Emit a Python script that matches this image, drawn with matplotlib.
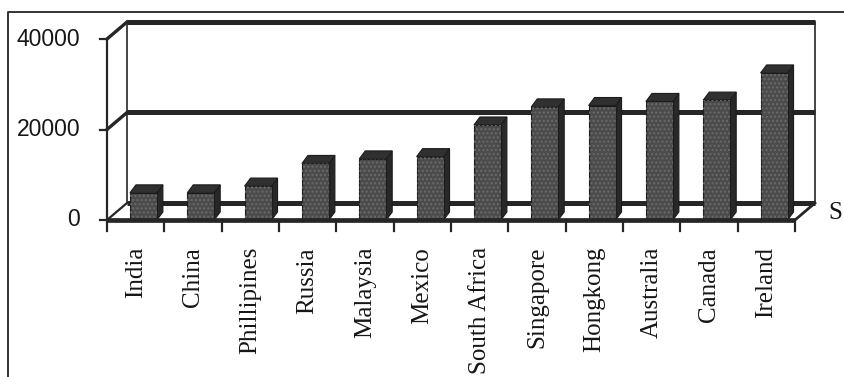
import matplotlib
matplotlib.use("Agg")
import matplotlib.pyplot as plt
from matplotlib.patches import Polygon
from matplotlib.lines import Line2D
from matplotlib.transforms import ScaledTranslation

# ---- data ----
countries = ["India", "China", "Phillipines", "Russia", "Malaysia", "Mexico",
             "South Africa", "Singapore", "Hongkong", "Australia", "Canada", "Ireland"]
values = [6000, 6000, 7500, 12500, 13500, 14000,
          21000, 25000, 25300, 26200, 26500, 32500]
y_ticks = [0, 20000, 40000]
y_tick_labels = ["0", "20000", "40000"]
legend_text = "S"

# ---- layout (pixels at 100 dpi) ----
W, H, DPI = 844, 377, 100
AX_L, AX_R = 107, 795          # front floor edge
AX_B, AX_T = 220, 39           # 0 and 40000 on the front plane
WALL_DX, WALL_DY = 20, 17      # depth of the back wall
BAR_DX, BAR_DY = 6, 8          # depth of each column
BAR_OFF, BAR_W = 0.40, 0.47    # column front face inside its category slot

fig = plt.figure(figsize=(W / DPI, H / DPI), dpi=DPI)
fig.patch.set_facecolor("white")
ax = fig.add_axes([AX_L / W, (H - AX_B) / H, (AX_R - AX_L) / W, (AX_B - AX_T) / H])
n = len(countries)
ax.set_xlim(0, n)
ax.set_ylim(0, y_ticks[-1])
ax.axis("off")

px_x = n / (AX_R - AX_L)                  # data units per pixel, horizontal
px_y = y_ticks[-1] / (AX_B - AX_T)        # data units per pixel, vertical


def shift(dx_px, dy_px):
    return ax.transData + ScaledTranslation(dx_px / DPI, dy_px / DPI, fig.dpi_scale_trans)


back = shift(WALL_DX, WALL_DY)
grid_col = "#262626"
text_col = "#161616"

# back wall gridlines and side-wall diagonals
for v in y_ticks:
    ax.add_line(Line2D([0, n], [v, v], transform=back, color=grid_col,
                       lw=3.6, solid_capstyle="butt", zorder=1, clip_on=False))
    ax.add_line(Line2D([0, WALL_DX * px_x], [v, v + WALL_DY * px_y], color=grid_col,
                       lw=2.4 if v else 1.6, zorder=1, clip_on=False))
# back wall vertical edges
for xv in (0, n):
    ax.add_line(Line2D([xv, xv], [0, y_ticks[-1]], transform=back, color=grid_col,
                       lw=1.2, zorder=1, clip_on=False))
# right floor edge
ax.add_line(Line2D([n, n + WALL_DX * px_x], [0, WALL_DY * px_y], color=grid_col,
                   lw=2.0, zorder=1, clip_on=False))

# columns
face_col, top_col, side_col, edge_col = "#4b4b4b", "#303030", "#282828", "#1c1c1c"
bdx, bdy = BAR_DX * px_x, BAR_DY * px_y
for i, v in enumerate(values):
    x0 = i + BAR_OFF
    x1 = x0 + BAR_W
    front_face = [(x0, 0), (x1, 0), (x1, v), (x0, v)]
    top_face = [(x0, v), (x1, v), (x1 + bdx, v + bdy), (x0 + bdx, v + bdy)]
    side_face = [(x1, 0), (x1 + bdx, bdy), (x1 + bdx, v + bdy), (x1, v)]
    for pts, col in ((side_face, side_col), (top_face, top_col), (front_face, face_col)):
        ax.add_patch(Polygon(pts, closed=True, facecolor=col, edgecolor=edge_col,
                             lw=0.8, zorder=2, clip_on=False))
    ax.add_patch(Polygon(front_face, closed=True, facecolor="none", edgecolor="#6a6a6a",
                         hatch="....", lw=0, zorder=2.1, clip_on=False))

# front floor edge and value axis
ax.add_line(Line2D([0, n], [0, 0], color=grid_col, lw=3.4, zorder=3,
                   solid_capstyle="butt", clip_on=False))
ax.add_line(Line2D([0, 0], [0, y_ticks[-1]], color=grid_col, lw=1.6, zorder=3, clip_on=False))

# tick marks
for v in y_ticks:
    ax.add_line(Line2D([-7 * px_x, 0], [v, v], color=grid_col, lw=1.6, zorder=3, clip_on=False))
for i in range(n + 1):
    ax.add_line(Line2D([i, i], [0, -11 * px_y], color=grid_col, lw=1.6, zorder=3, clip_on=False))

# tick labels
for v, lab in zip(y_ticks, y_tick_labels):
    ax.text(0, v, lab, transform=shift(-27, 0), ha="right", va="center",
            fontsize=16.5, family="Liberation Sans", color=text_col)
for i, name in enumerate(countries):
    ax.text(i + 0.5, 0, name, transform=shift(0, -27), rotation=90, ha="center",
            va="top", fontsize=18, family="Liberation Serif", color=text_col)

# legend entry at the right edge
ax.text(n, 0, legend_text, transform=shift(33, 7), ha="left", va="center",
        fontsize=18, family="Liberation Serif", color=text_col, clip_on=False)

# outer chart frame
fy = 1 - 12 / H
fx = 8 / W
fig.add_artist(Line2D([fx, fx, 1.0], [0.0, fy, fy], transform=fig.transFigure,
                      color="#333333", lw=1.4))

fig.savefig("out.png", dpi=DPI, facecolor="white")
